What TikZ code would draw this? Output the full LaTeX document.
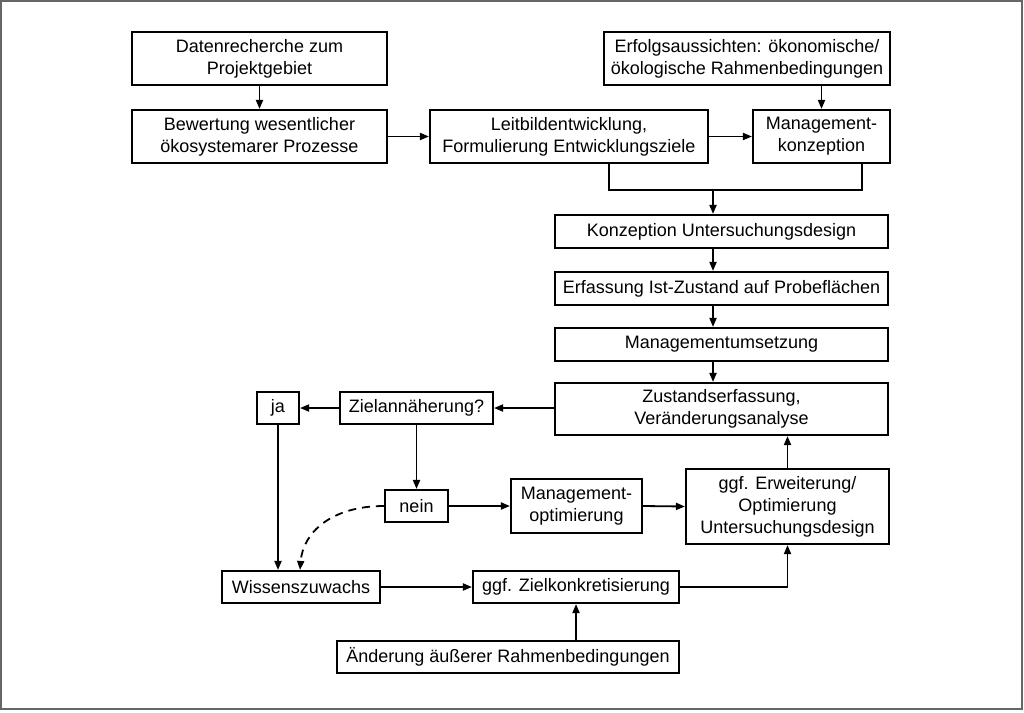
\documentclass[tikz,border=0pt]{standalone}
\usepackage{fontspec}
\setmainfont{Liberation Sans}
\usetikzlibrary{arrows.meta}
\begin{document}
\begin{tikzpicture}[x=1pt,y=-1pt,
  box/.style={draw, line width=2.1pt, inner sep=0pt, align=center, font=\fontsize{18}{22}\selectfont},
  arr/.style={line width=1.8pt, -{Triangle[length=9pt,width=7pt]}},
  conn/.style={line width=1.8pt}]
\useasboundingbox (0,0) rectangle (1024,712);
\draw[line width=1.6pt, black!60] (1,1) rectangle (1022,709);
% top row
\node[box, minimum width=255, minimum height=53] (daten) at (259.5,58.5) {Datenrecherche zum\\Projektgebiet};
\node[box, minimum width=255, minimum height=53] (bewert) at (259.5,136.5) {Bewertung wesentlicher\\ökosystemarer Prozesse};
\node[box, minimum width=278, minimum height=53] (leitbild) at (569,136.5) {Leitbildentwicklung,\\Formulierung Entwicklungsziele};
\node[box, minimum width=286, minimum height=53] (erfolg) at (747,58.5) {Erfolgsaussichten: ökonomische/\\ökologische Rahmenbedingungen};
\node[box, minimum width=137, minimum height=53] (mkonz) at (821.5,136.5) {Management-\\konzeption};
% middle column
\node[box, minimum width=333, minimum height=33] (konz) at (721.5,231.5) {Konzeption Untersuchungsdesign};
\node[box, minimum width=333, minimum height=33] (erfass) at (721.5,288.5) {Erfassung Ist-Zustand auf Probeflächen};
\node[box, minimum width=333, minimum height=33] (mums) at (721.5,344.5) {Managementumsetzung};
\node[box, minimum width=333, minimum height=52] (zust) at (721.5,409) {Zustandserfassung,\\Veränderungsanalyse};
% lower part
\node[box, minimum width=153, minimum height=32] (ziel) at (416.5,408) {Zielannäherung?};
\node[box, minimum width=42, minimum height=32] (ja) at (278,408) {ja};
\node[box, minimum width=63, minimum height=32] (nein) at (416.5,506) {nein};
\node[box, minimum width=131, minimum height=54] (mopt) at (576.5,506) {Management-\\optimierung};
\node[box, minimum width=203, minimum height=75] (erw) at (787.5,506.5) {ggf. Erweiterung/\\Optimierung\\Untersuchungsdesign};
\node[box, minimum width=158, minimum height=32] (wissen) at (301,587) {Wissenszuwachs};
\node[box, minimum width=206, minimum height=32] (zielk) at (576,587) {ggf. Zielkonkretisierung};
\node[box, minimum width=342, minimum height=32] (aend) at (508,657) {Änderung äußerer Rahmenbedingungen};
\coordinate (j) at (713,190);
% connectors
\draw[arr] (daten) -- (bewert);
\draw[arr] (bewert) -- (leitbild);
\draw[arr] (leitbild) -- (mkonz);
\draw[arr] (mkonz |- erfolg.south) -- (mkonz.north);
\draw[conn] ([xshift=40]leitbild.south) |- (j) -| ([xshift=40.5]mkonz.south);
\draw[arr] (j) -- (j |- konz.north);
\draw[arr] (j |- konz.south) -- (j |- erfass.north);
\draw[arr] (j |- erfass.south) -- (j |- mums.north);
\draw[arr] (j |- mums.south) -- (j |- zust.north);
\draw[arr] (zust.west |- ziel.east) -- (ziel.east);
\draw[arr] (ziel) -- (ja);
\draw[arr] (ziel) -- (nein);
\draw[arr] (nein) -- (mopt);
\draw[arr] (mopt.east) -- (erw.west);
\draw[arr] (erw.north) -- (erw.north |- zust.south);
\draw[arr] (ja) -- (ja |- wissen.north);
\draw[arr, dash pattern=on 8pt off 6pt] (nein.west) .. controls (332,506) and (303,532) .. ([xshift=-1]wissen.north);
\draw[arr] (wissen) -- (zielk);
\draw[arr] (zielk.east) -| (erw.south);
\draw[arr] (zielk.south |- aend.north) -- (zielk.south);
\end{tikzpicture}
\end{document}
